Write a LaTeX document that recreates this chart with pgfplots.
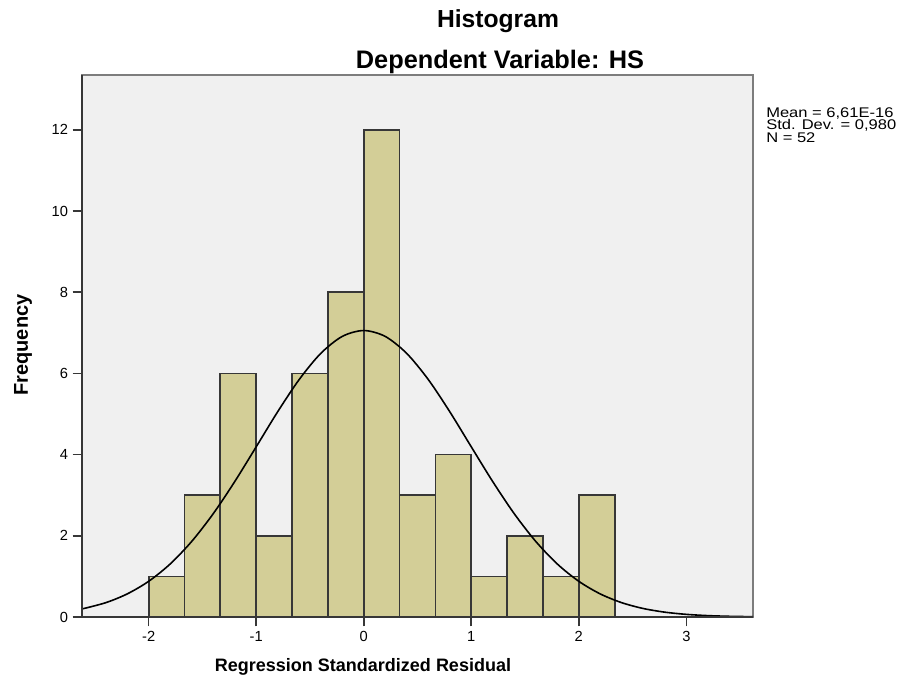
\documentclass[border=0pt]{standalone}
\usepackage{fontspec}
\setmainfont{Liberation Sans}
\newfontfamily\statsfont{Liberation Sans}[FakeStretch=1.18]
\newcommand\statsstyle{\statsfont\fontsize{10.5}{9.5}\selectfont\lineskiplimit=-20pt\relax}
\usepackage{pgfplots}
\pgfplotsset{compat=1.18}
\definecolor{barfill}{RGB}{211,206,151}
\definecolor{bardraw}{RGB}{55,55,55}
\definecolor{bgray}{RGB}{240,240,240}
\definecolor{framegray}{RGB}{125,125,125}
\definecolor{axdark}{RGB}{55,55,55}
\begin{document}
\begin{tikzpicture}
\begin{axis}[
  at={(0,0)}, anchor=south west,
  scale only axis, width=503.25pt, height=406.5pt,
  xmin=-2.62, xmax=3.62, ymin=0, ymax=13.35,
  axis background/.style={fill=bgray},
  axis line style={draw=framegray, line width=1.5pt},
  xtick={-2,-1,0,1,2,3}, ytick={0,2,4,6,8,10,12},
  xtick pos=lower, ytick pos=left, tick align=outside,
  major tick length=7pt,
  tick style={draw=axdark, line width=1.2pt},
  /pgf/number format/assume math mode=true,
  ticklabel style={font=\fontsize{11}{13}\selectfont, text=black},
  clip=false,
]
\addplot[ybar interval, fill=barfill, draw=bardraw, line width=1.3pt] coordinates {
  (-2.0000,1) (-1.6667,3) (-1.3333,6) (-1.0000,2) (-0.6667,6) (-0.3333,8)
  (0.0000,12) (0.3333,3) (0.6667,4) (1.0000,1) (1.3333,2) (1.6667,1)
  (2.0000,3) (2.3333,3)
};
\addplot[smooth, black, line width=1.2pt] coordinates {
  (-2.62,0.198) (-2.4,0.352) (-2.2,0.568) (-2.0,0.879) (-1.8,1.306)
  (-1.6,1.861) (-1.4,2.543) (-1.2,3.334) (-1.0,4.192) (-0.8,5.057)
  (-0.6,5.850) (-0.4,6.492) (-0.2,6.911) (0.0,7.056) (0.2,6.911)
  (0.4,6.492) (0.6,5.850) (0.8,5.057) (1.0,4.192) (1.2,3.334)
  (1.4,2.543) (1.6,1.861) (1.8,1.306) (2.0,0.879) (2.2,0.568)
  (2.4,0.352) (2.6,0.209) (2.8,0.119) (3.0,0.0651) (3.2,0.0341)
  (3.4,0.0172) (3.62,0.0077)
};
\draw[axdark, line width=1.5pt] (rel axis cs:0,1) -- (rel axis cs:0,0) -- (rel axis cs:1,0);
\end{axis}
\node[font=\bfseries\fontsize{18.5}{22}\selectfont] at (312pt,447pt) {Histogram};
\node[font=\bfseries\fontsize{19}{22}\selectfont] at (313.5pt,416pt) {Dependent Variable: HS};
\node[font=\bfseries\fontsize{15}{18}\selectfont, rotate=90] at (-44.25pt,204pt) {Frequency};
\node[font=\bfseries\fontsize{13.5}{16}\selectfont] at (210.75pt,-37.5pt) {Regression Standardized Residual};
\node[anchor=north west, align=left, inner sep=0pt, font=\statsstyle] at (513pt,382.5pt) {Mean = 6,61E-16\\Std. Dev. = 0,980\\N = 52};
\pgfresetboundingbox
\path[use as bounding box] (-61.5pt,-49.5pt) rectangle (616.5pt,462.75pt);
\end{tikzpicture}
\end{document}
